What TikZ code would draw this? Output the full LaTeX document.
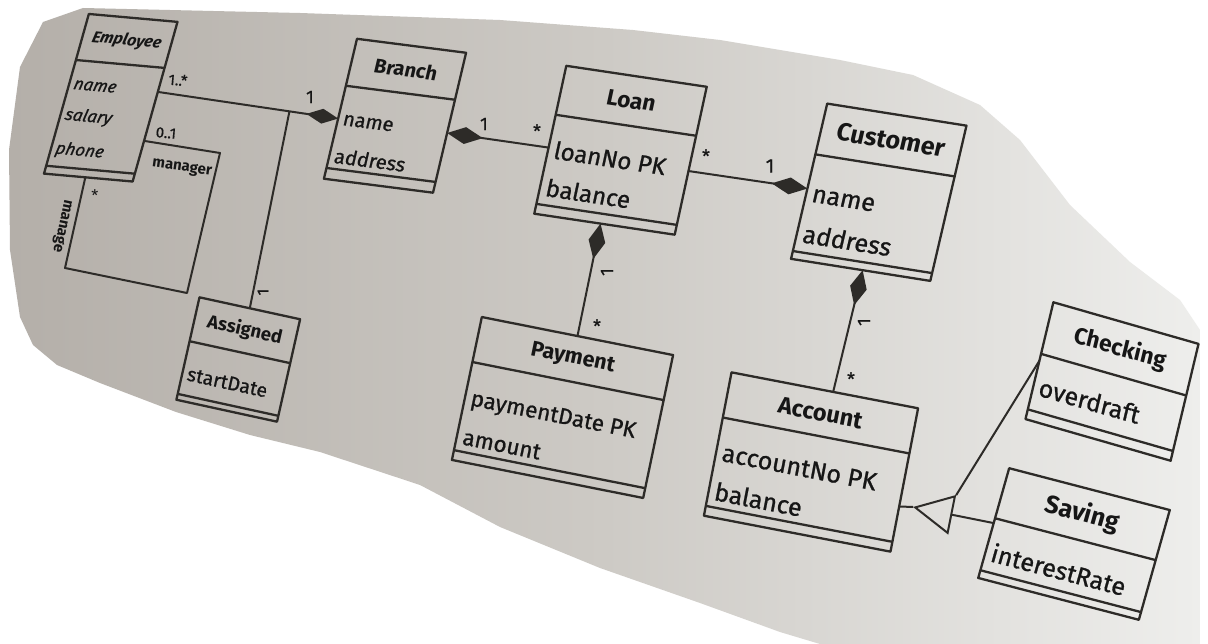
\documentclass[tikz,border=0pt]{standalone}
\usepackage{fontspec}
\setmainfont{Fira Sans}
\newfontfamily\afont{Fira Sans}[FakeBold=0.9]
\newfontfamily\tfont{Fira Sans}[FakeBold=0.6]
\usetikzlibrary{arrows.meta,calc}
\definecolor{paperL}{RGB}{180,175,169}
\definecolor{paperM}{RGB}{205,202,197}
\definecolor{paperR}{RGB}{238,238,236}
\definecolor{ink}{RGB}{45,43,40}
\definecolor{txt}{RGB}{22,22,22}
\newcommand{\fsz}[1]{\fontsize{#1}{#1}\selectfont}
% #1 name, #2 centre, #3 rotation, #4 slant, #5 W, #6 H, #7 title h, #8 ops h, #9 contents
\newcommand{\classbox}[9]{%
\begin{scope}[shift={#2}, rotate=#3, xslant=#4, transform shape]
\pgfmathsetmacro\W{#5}\pgfmathsetmacro\H{#6}\pgfmathsetmacro\ha{#7}\pgfmathsetmacro\hc{#8}
\node[box, minimum width=\W pt, minimum height=\H pt] (#1) at (0,0) {};
\draw[boxline] ({-\W/2},{\H/2-\ha}) -- ({\W/2},{\H/2-\ha});
\draw[boxline] ({-\W/2},{-\H/2+\hc}) -- ({\W/2},{-\H/2+\hc});
#9
\end{scope}}
\tikzset{
  box/.style={draw=ink, line width=2.3pt, inner sep=0pt, outer sep=0pt, rectangle},
  boxline/.style={draw=ink, line width=2.3pt},
  ttl/.style={text=txt, inner sep=0pt},
  attr/.style={text=txt, anchor=base west, inner sep=0pt},
  conn/.style={draw=ink, line width=2pt},
  comp/.style={conn, -{Diamond[length=36pt,width=17pt]}},
  compS/.style={conn, -{Diamond[length=32pt,width=15pt]}},
  gen/.style={conn, -{Triangle[open, length=40pt, width=40pt]}},
  lbl/.style={text=txt, inner sep=0pt},
}
\begin{document}
\begin{tikzpicture}[x=1pt, y=1pt, line join=round]
\useasboundingbox (0,0) rectangle (1208,-644);
\fill[white] (0,0) rectangle (1208,-644);
% paper
\path[left color=paperL, right color=paperR, middle color=paperM]
 (320,-452) -- (420,-485) -- (500,-527) -- (600,-568) -- (700,-603) -- (780,-632) -- (820,-644)
 -- (1200,-644) -- (1200,-330) -- (1180,-300) -- (1130,-262) -- (1070,-205) -- (1020,-140)
 -- (980,-105) -- (913,-75) -- (840,-60) -- (720,-40) -- (633,-30) -- (500,-20) -- (300,-13)
 -- (83,-8) -- (43,-22) -- (20,-67) -- (9,-150) -- (10,-250) -- (20,-317) -- (33,-345)
 -- (57,-365) -- (100,-383) -- (176,-412) -- (250,-435) -- cycle;

\classbox{emp}{(110.75,-97.75)}{-5.1}{0.187}{89}{163}{47}{8}{
 \node[ttl, font=\fsz{16}\bfseries\itshape] (emp-t) at (0,58) {Employee};
 \node[attr, font=\fsz{17}\afont\itshape] (emp-a1) at (-40,5.3) {name};
 \node[attr, font=\fsz{17}\afont\itshape] (emp-a2) at (-40,-26) {salary};
 \node[attr, font=\fsz{17}\afont\itshape] (emp-a3) at (-40,-60.5) {phone};
 \coordinate (emp-br) at (44.5,10);
 \coordinate (emp-mg) at (44.5,-40);
 \coordinate (emp-bt) at (-3,-81.5);
}
\classbox{br}{(395,-115.75)}{-7.3}{0.105}{110}{143}{48}{11}{
 \node[ttl, font=\fsz{20}\bfseries] (br-t) at (0,47.5) {Branch};
 \node[attr, font=\fsz{20}\afont] (br-a1) at (-50,-16) {name};
 \node[attr, font=\fsz{20}\afont] (br-a2) at (-50,-54.6) {address};
 \coordinate (br-l) at (-55,-10);
 \coordinate (br-r) at (55,-10.5);
}
\classbox{loan}{(620.5,-150.25)}{-8.5}{0.065}{142}{151}{50}{10}{
 \node[ttl, font=\fsz{22.5}\bfseries] (loan-t) at (0,50.5) {Loan};
 \node[attr, font=\fsz{24}\afont] (loan-a1) at (-65,-18.2) {loanNo PK};
 \node[attr, font=\fsz{24}\afont] (loan-a2) at (-65,-56.4) {balance};
 \coordinate (loan-l) at (-71,-8);
 \coordinate (loan-r) at (71,-10.5);
 \coordinate (loan-b) at (-4,-75.5);
}
\classbox{cus}{(878.75,-192.25)}{-9}{0.072}{141}{159}{52}{8}{
 \node[ttl, font=\fsz{25}\bfseries] (cus-t) at (0,53.5) {Customer};
 \node[attr, font=\fsz{25}\afont] (cus-a1) at (-64.5,-20) {name};
 \node[attr, font=\fsz{25}\afont] (cus-a2) at (-64.5,-61.6) {address};
 \coordinate (cus-l) at (-70.5,-7.5);
 \coordinate (cus-b) at (2,-79.5);
}
\classbox{pay}{(562.5,-407.5)}{-11.25}{0.01}{195}{146}{46}{10}{
 \node[ttl, font=\fsz{21.5}\bfseries] (pay-t) at (0,50) {Payment};
 \node[attr, font=\fsz{22.5}\afont] (pay-a1) at (-91.5,-16) {paymentDate PK};
 \node[attr, font=\fsz{22.5}\afont] (pay-a2) at (-91.5,-55.8) {amount};
}
\classbox{acc}{(811,-462)}{-10.9}{0}{190}{146}{46}{10}{
 \node[ttl, font=\fsz{23.5}\bfseries] (acc-t) at (0,50) {Account};
 \node[attr, font=\fsz{25}\afont] (acc-a1) at (-89,-16) {accountNo PK};
 \node[attr, font=\fsz{25}\afont] (acc-a2) at (-89,-55.8) {balance};
 \coordinate (acc-top) at (8.5,73);
 \coordinate (acc-r) at (95,-27);
}
\classbox{chk}{(1112,-381.5)}{-16}{-0.045}{151}{120}{53}{10}{
 \node[ttl, font=\fsz{23}\bfseries] (chk-t) at (0,33.5) {Checking};
 \node[attr, font=\fsz{25}\afont] (chk-a1) at (-69.5,-34) {overdraft};
}
\classbox{sav}{(1074,-544)}{-14.6}{0.02}{166}{114}{52}{8}{
 \node[ttl, font=\fsz{25}\bfseries] (sav-t) at (0,31) {Saving};
 \node[attr, font=\fsz{25}\afont] (sav-a1) at (-77,-38) {interestRate};
}
\classbox{ass}{(238.25,-359.5)}{-12.3}{0.007}{103}{105}{45}{6}{
 \node[ttl, font=\fsz{18.5}\bfseries] (ass-t) at (0,30) {Assigned};
 \node[attr, font=\fsz{19.5}\afont] (ass-a1) at (-46.5,-31.4) {startDate};
}

% self association (manager / manage)
\coordinate (mg1) at (220,-153);
\coordinate (mg2) at (187,-293);
\coordinate (mg3) at (65,-268);
\draw[conn] (emp-mg) -- (mg1) -- (mg2) -- (mg3) -- (emp-bt);
\node[lbl, font=\fsz{15}\tfont, rotate=-5] (l-01) at (166,-133) {0..1};
\node[lbl, font=\fsz{15}\bfseries, rotate=-8] (l-mgr) at (182,-168) {manager};
\node[lbl, font=\fsz{16}] (l-ms) at (95,-196) {*};
\node[lbl, font=\fsz{15}\bfseries, rotate=-102] (l-mge) at (62,-226) {manage};

% Employee - Branch with association class Assigned
\draw[compS] (emp-br) -- (br-l);
\coordinate (asc) at ($(emp-br)!0.73!(br-l)$);
\draw[conn] (asc) -- (ass.north);
\node[lbl, font=\fsz{15}\tfont, rotate=-5] (l-1s) at (178,-80) {1..*};
\node[lbl, font=\fsz{18}\tfont] (l-b1) at (310,-97) {1};
\node[lbl, font=\fsz{16}\tfont, rotate=90] (l-a1) at (263,-292) {1};

% Branch - Loan
\draw[comp] (loan-l) -- (br-r);
\node[lbl, font=\fsz{18}\tfont] (l-bl1) at (484,-124) {1};
\node[lbl, font=\fsz{18}\tfont] (l-bls) at (537,-131) {*};

% Loan - Customer
\draw[comp] (loan-r) -- (cus-l);
\node[lbl, font=\fsz{18}\tfont] (l-lcs) at (706,-156) {*};
\node[lbl, font=\fsz{20}\tfont] (l-lc1) at (770,-166) {1};

% Loan - Payment
\draw[comp] (pay.north) -- (loan-b);
\node[lbl, font=\fsz{18}\tfont, rotate=90] (l-lp1) at (607,-272) {1};
\node[lbl, font=\fsz{18}\tfont] (l-lps) at (597,-326) {*};

% Customer - Account
\draw[comp] (acc-top) -- (cus-b);
\node[lbl, font=\fsz{18}\tfont, rotate=90] (l-ca1) at (864,-322) {1};
\node[lbl, font=\fsz{18}\tfont] (l-cas) at (851,-379) {*};

% Generalisation
\coordinate (gtip) at (913,-507);
\coordinate (gbase) at ($(gtip)!40pt!(sav.west)$);
\coordinate (gcorner) at ($(gbase)!20pt!-90:(gtip)$);
\draw[conn] (acc-r) -- (gtip);
\draw[gen] (sav.west) -- (gtip);
\draw[conn] (chk.west) -- (gcorner);
\end{tikzpicture}
\end{document}
